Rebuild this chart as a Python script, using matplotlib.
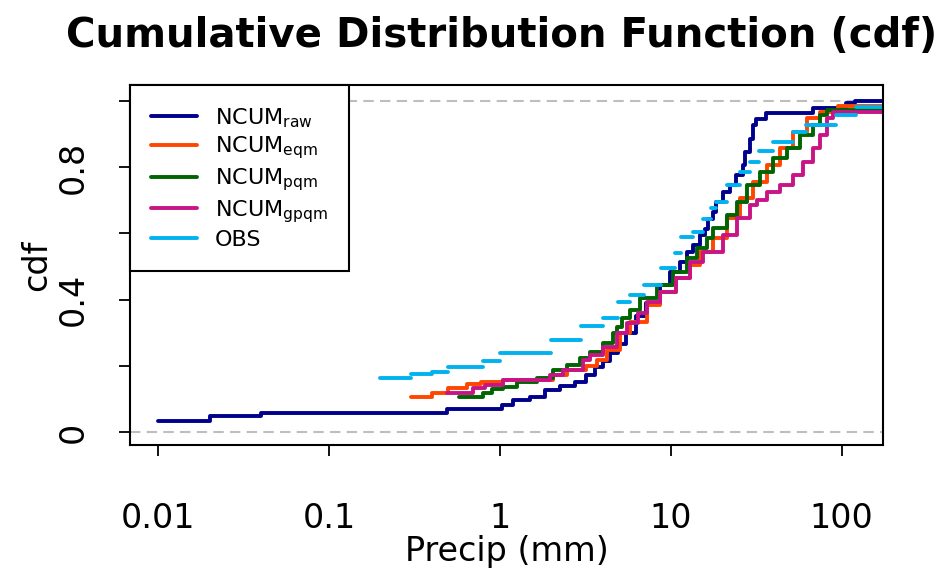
import matplotlib
matplotlib.use("Agg")
import matplotlib.pyplot as plt

# step positions (mm) and cdf levels
raw_x = [0.01, 0.02, 0.04, 0.49, 1.03, 1.19, 1.5, 1.83, 2.24, 2.75, 3.2, 3.6, 4.0, 4.4, 4.9, 5.5, 6.3, 7.2, 8.6, 9.9,
         11.3, 12.4, 13.5, 14.8, 15.8, 16.5, 17.7, 18.5, 20.2, 22.1, 24.2, 26.5, 27.1, 29.0, 30.3, 31.7, 36.3, 67.9, 106, 120]
raw_y = [0.033, 0.048, 0.057, 0.069, 0.082, 0.097, 0.106, 0.127, 0.139, 0.151, 0.172, 0.195, 0.215, 0.24, 0.265, 0.3, 0.35, 0.39, 0.444, 0.484,
         0.515, 0.545, 0.565, 0.595, 0.615, 0.645, 0.665, 0.695, 0.726, 0.746, 0.776, 0.806, 0.846, 0.887, 0.927, 0.947, 0.963, 0.978, 0.993, 1.0]

eqm_x = [0.3, 0.4, 0.5, 0.64, 0.78, 1.04, 2.04, 2.46, 3.2, 3.69, 4.22, 5.03, 5.75, 7.24, 8.62, 10.8, 12.9, 14.8, 17.6, 21.2,
         25.3, 30.2, 36.4, 43.4, 51.7, 62.4, 74.4, 95]
eqm_y = [0.107, 0.117, 0.132, 0.145, 0.151, 0.157, 0.172, 0.187, 0.2, 0.218, 0.248, 0.299, 0.332, 0.384, 0.423, 0.465, 0.505, 0.544, 0.586, 0.646,
         0.707, 0.755, 0.807, 0.858, 0.906, 0.949, 0.967, 0.985]

pqm_x = [0.58, 0.8, 0.9, 1.04, 1.26, 1.64, 2.04, 2.46, 2.94, 3.36, 4.0, 4.58, 4.83, 5.17, 5.75, 6.59, 8.28, 10.3, 12.4, 14.2,
         16.2, 17.6, 21.2, 24.3, 27.8, 33.1, 39.5, 47.7, 56.8, 67.6, 74.4, 81.7]
pqm_y = [0.107, 0.117, 0.13, 0.137, 0.151, 0.163, 0.187, 0.202, 0.224, 0.242, 0.269, 0.3, 0.317, 0.345, 0.37, 0.405, 0.444, 0.483, 0.526, 0.556,
         0.586, 0.616, 0.656, 0.695, 0.746, 0.785, 0.828, 0.858, 0.897, 0.927, 0.958, 0.973]

gpqm_x = [0.49, 0.7, 0.82, 1.04, 1.96, 2.33, 3.06, 3.36, 4.0, 4.83, 5.53, 6.4, 7.24, 8.62, 10.8, 12.9, 15.4, 20.1, 24.3, 29.0,
          31.8, 36.4, 43.4, 51.7, 59.1, 67.6, 74.4, 81.7, 88.5]
gpqm_y = [0.117, 0.133, 0.142, 0.157, 0.172, 0.187, 0.218, 0.233, 0.257, 0.3, 0.33, 0.36, 0.393, 0.423, 0.465, 0.514, 0.544, 0.595, 0.646, 0.686,
          0.701, 0.725, 0.746, 0.776, 0.816, 0.858, 0.897, 0.949, 0.967]

obs_x = [0.2, 0.3, 0.4, 0.5, 0.8, 1.0, 2.0, 3.0, 4.0, 4.9, 5.8, 7.0, 8.8, 10.6, 11.5, 13.5, 15.4, 17.3, 18.5, 21.2,
         25.4, 29.0, 33, 39.6, 51.9, 62, 93, 122]
obs_y = [0.164, 0.174, 0.18, 0.197, 0.214, 0.24, 0.278, 0.32, 0.345, 0.394, 0.414, 0.444, 0.495, 0.54, 0.59, 0.605, 0.645, 0.676, 0.696, 0.746,
         0.786, 0.817, 0.85, 0.877, 0.907, 0.927, 0.958, 0.983]

x_ticks = [0.01, 0.1, 1, 10, 100]
x_ticklabels = ["0.01", "0.1", "1", "10", "100"]
y_ticks = [0, 0.2, 0.4, 0.6, 0.8, 1.0]
y_ticklabels = ["0", "", "0.4", "", "0.8", ""]

xmin, xmax = 10 ** -2.164, 10 ** 2.24
lw = 2.8

fig = plt.figure(figsize=(9.43, 5.74), dpi=100)
ax = fig.add_axes([0.138, 0.225, 0.798, 0.627])
ax.set_xscale("log")
ax.set_xlim(xmin, xmax)
ax.set_ylim(-0.039, 1.049)

ax.axhline(0, color="#bebebe", lw=1.5, ls=(0, (5, 3)))
ax.axhline(1, color="#bebebe", lw=1.5, ls=(0, (5, 3)))

series = [
    (raw_x, raw_y, "#00008B", r"NCUM$_{\mathrm{raw}}$"),
    (eqm_x, eqm_y, "#FF4500", r"NCUM$_{\mathrm{eqm}}$"),
    (pqm_x, pqm_y, "#006400", r"NCUM$_{\mathrm{pqm}}$"),
    (gpqm_x, gpqm_y, "#C71585", r"NCUM$_{\mathrm{gpqm}}$"),
]
handles = []
for xs, ys, col, lab in series:
    h, = ax.step(xs + [xmax], ys + [ys[-1]], where="post", color=col, lw=lw,
                 solid_capstyle="round", solid_joinstyle="round", label=lab)
    handles.append(h)

# OBS drawn as separate horizontal pieces like R's plot.ecdf
ax.hlines(obs_y, obs_x, obs_x[1:] + [xmax], color="#00B2EE", lw=lw, capstyle="round")
h_obs, = ax.plot([], [], color="#00B2EE", lw=lw, label="OBS", solid_capstyle="round")
handles.append(h_obs)

ax.set_xticks(x_ticks)
ax.set_xticklabels(x_ticklabels)
ax.minorticks_off()
ax.set_yticks(y_ticks)
ax.set_yticklabels(y_ticklabels, rotation=90, va="center")
ax.tick_params(axis="both", direction="out", length=8, width=1.3, labelsize=24, color="black")
ax.tick_params(axis="x", pad=33)
ax.tick_params(axis="y", pad=21)
for s in ax.spines.values():
    s.set_linewidth(1.5)

ax.set_xlabel("Precip (mm)", fontsize=24, labelpad=0)
ax.set_ylabel("cdf", fontsize=24, labelpad=3)
fig.suptitle("Cumulative Distribution Function (cdf)", fontsize=29, fontweight="bold", x=0.532, y=0.972)

leg = ax.legend(handles=handles, loc="upper left", bbox_to_anchor=(0, 1), borderaxespad=0,
                fancybox=False, edgecolor="black", framealpha=1, fontsize=16,
                handlelength=2.05, handletextpad=0.8, labelspacing=0.22, borderpad=0.95)
leg.get_frame().set_linewidth(1.5)

fig.savefig("out.png", dpi=100)
